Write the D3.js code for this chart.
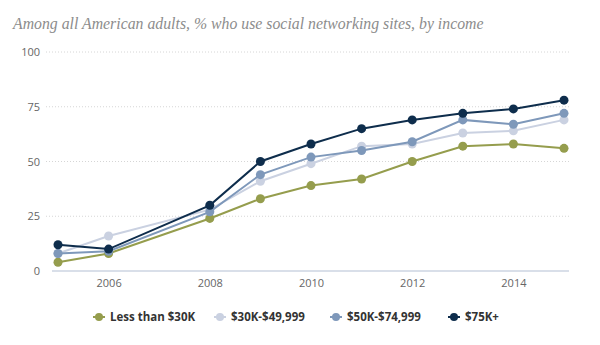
<!DOCTYPE html>
<html lang="en">
<head>
<meta charset="UTF-8">
<style>
    body { margin: 0; background: #fff; }
    .tick text { font-family: "Open Sans", "DejaVu Sans", sans-serif; font-size: 11px; fill: #666; }
</style>
</head>
<body>
<div id="chart"></div>
<script src="https://cdn.jsdelivr.net/npm/d3@7"></script>
<script>
    // data
    var years = [2005, 2006, 2008, 2009, 2010, 2011, 2012, 2013, 2014, 2015];
    var seriesNames = ["Less than $30K", "$30K-$49,999", "$50K-$74,999", "$75K+"];
    var lowIncome = [4, 8, 24, 33, 39, 42, 50, 57, 58, 56];
    var midLowIncome = [8, 16, 28, 41, 49, 57, 58, 63, 64, 69];
    var midHighIncome = [8, 9, 27, 44, 52, 55, 59, 69, 67, 72];
    var highIncome = [12, 10, 30, 50, 58, 65, 69, 72, 74, 78];
    var xTicks = [2006, 2008, 2010, 2012, 2014];
    var yTicks = [0, 25, 50, 75, 100];
    var colors = ["#959d4d", "#cad1e1", "#7e98ba", "#0e2d4c"];

    var width = 600, height = 345;

    var svg = d3.select("#chart").append("svg")
        .attr("width", width)
        .attr("height", height);

    var title = svg.append("text")
        .attr("x", 13)
        .attr("y", 29)
        .style("font-family", "'Liberation Serif', 'DejaVu Serif', serif")
        .style("font-style", "italic")
        .style("font-size", "16px")
        .style("fill", "#8c8c8c")
        .text("Among all American adults, % who use social networking sites, by income");
    // fit the title to the width it has in the original (~471px)
    var tw = title.node().getComputedTextLength();
    title.style("font-size", (16 * 471 / tw).toFixed(2) + "px");

    var x = d3.scaleLinear().domain([2005, 2015]).range([58, 564]);
    var y = d3.scaleLinear().domain([0, 100]).range([271, 52]);

    // gridlines
    svg.selectAll(".grid")
        .data(yTicks.filter(function (d) { return d > 0; }))
        .enter().append("line")
        .attr("x1", 46).attr("x2", 569)
        .attr("y1", function (d) { return y(d); })
        .attr("y2", function (d) { return y(d); })
        .attr("stroke", "#d6d6d6")
        .attr("stroke-width", 1)
        .attr("stroke-dasharray", "1,2");

    var yAxis = svg.append("g")
        .attr("transform", "translate(40,0)")
        .call(d3.axisLeft(y).tickValues(yTicks).tickSize(0).tickPadding(0));
    yAxis.select(".domain").remove();

    var xAxis = svg.append("g")
        .attr("transform", "translate(0,271)")
        .call(d3.axisBottom(x).tickValues(xTicks).tickFormat(d3.format("d")).tickSize(0).tickPadding(8));
    xAxis.select(".domain").remove();

    svg.append("line")
        .attr("x1", 52).attr("x2", 569)
        .attr("y1", 271).attr("y2", 271)
        .attr("stroke", "#cdd4e2")
        .attr("stroke-width", 1.5);

    var allSeries = [lowIncome, midLowIncome, midHighIncome, highIncome];

    var line = d3.line()
        .x(function (d, i) { return x(years[i]); })
        .y(function (d) { return y(d); });

    allSeries.forEach(function (vals, k) {
        svg.append("path")
            .datum(vals)
            .attr("d", line)
            .attr("fill", "none")
            .attr("stroke", colors[k])
            .attr("stroke-width", 2);

        svg.selectAll(".pt" + k)
            .data(vals)
            .enter().append("circle")
            .attr("cx", function (d, i) { return x(years[i]); })
            .attr("cy", function (d) { return y(d); })
            .attr("r", 4.5)
            .attr("fill", colors[k]);
    });

    // legend
    var legendX = [99, 220, 336, 454];
    var legend = svg.selectAll(".legend")
        .data(seriesNames)
        .enter().append("g")
        .attr("transform", function (d, i) { return "translate(" + legendX[i] + ",317)"; });

    legend.append("line")
        .attr("x1", -6).attr("x2", 6)
        .attr("stroke", function (d, i) { return colors[i]; })
        .attr("stroke-width", 2);
    legend.append("circle")
        .attr("r", 4)
        .attr("fill", function (d, i) { return colors[i]; });
    legend.append("text")
        .attr("x", 11)
        .attr("dy", "0.35em")
        .style("font-family", "'Open Sans', 'DejaVu Sans', sans-serif")
        .style("font-size", "11.5px")
        .style("font-weight", "bold")
        .style("fill", "#333")
        .text(function (d) { return d; });
</script>
</body>
</html>
